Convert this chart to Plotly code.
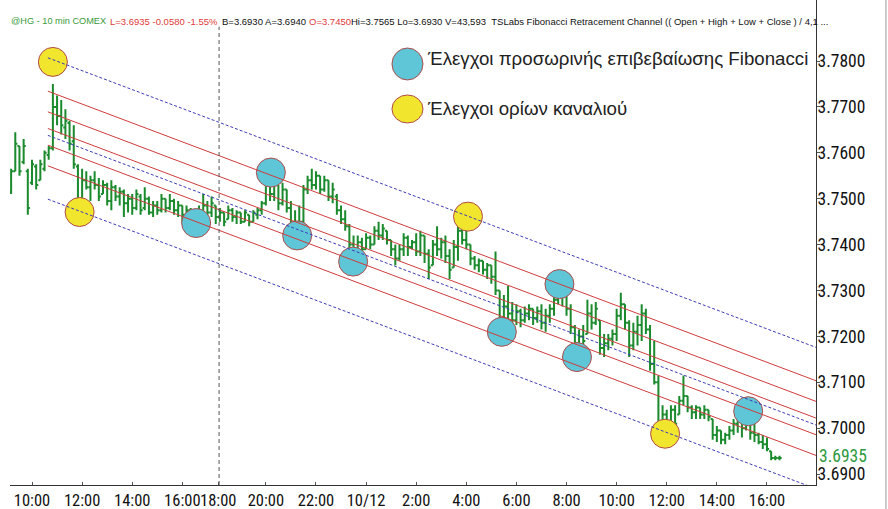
import plotly.graph_objects as go

# ---- bar data (10-min bars, index 0 = 10:00) ----
bar_index = list(range(-5, 180))
opens = [3.7515,3.7560,3.7615,3.7580,3.7560,3.7535,3.7570,3.7540,3.7565,3.7595,
 3.7610,3.7700,3.7680,3.7655,3.7665,3.7625,3.7570,3.7485,3.7540,3.7525,
 3.7540,3.7530,3.7510,3.7530,3.7495,3.7525,3.7505,3.7515,3.7490,3.7500,
 3.7480,3.7505,3.7480,3.7500,3.7470,3.7485,3.7475,3.7500,3.7480,3.7495,
 3.7475,3.7485,3.7465,3.7475,3.7455,3.7465,3.7460,3.7485,3.7470,3.7485,
 3.7460,3.7470,3.7455,3.7475,3.7460,3.7470,3.7450,3.7465,3.7450,3.7465,
 3.7475,3.7490,3.7530,3.7510,3.7530,3.7490,3.7520,3.7480,3.7445,3.7430,
 3.7450,3.7520,3.7540,3.7530,3.7550,3.7520,3.7540,3.7505,3.7505,3.7475,
 3.7455,3.7440,3.7400,3.7380,3.7405,3.7390,3.7415,3.7400,3.7430,3.7420,
 3.7430,3.7410,3.7390,3.7370,3.7390,3.7415,3.7395,3.7405,3.7385,3.7420,
 3.7380,3.7355,3.7400,3.7390,3.7405,3.7375,3.7350,3.7395,3.7430,3.7410,
 3.7400,3.7370,3.7355,3.7365,3.7345,3.7355,3.7330,3.7300,3.7240,3.7265,
 3.7250,3.7235,3.7255,3.7235,3.7250,3.7260,3.7240,3.7255,3.7230,3.7245,
 3.7260,3.7280,3.7300,3.7290,3.7260,3.7220,3.7185,3.7200,3.7205,3.7250,
 3.7230,3.7235,3.7175,3.7185,3.7195,3.7205,3.7245,3.7270,3.7230,3.7180,
 3.7210,3.7225,3.7250,3.7215,3.7140,3.7100,3.7010,3.7030,3.7000,3.7040,
 3.7030,3.7060,3.7070,3.7045,3.7035,3.7045,3.7030,3.7040,3.7020,3.6985,
 3.6995,3.6975,3.6985,3.6995,3.7010,3.7020,3.7000,3.7020,3.6990,3.6985,
 3.6970,3.6965,3.6950,3.6935,3.6935]
highs = [3.7565,3.7645,3.7615,3.7630,3.7565,3.7585,3.7575,3.7585,3.7605,3.7615,
 3.7750,3.7725,3.7715,3.7695,3.7670,3.7660,3.7575,3.7565,3.7560,3.7550,
 3.7560,3.7545,3.7540,3.7535,3.7540,3.7530,3.7525,3.7520,3.7510,3.7510,
 3.7520,3.7510,3.7525,3.7505,3.7495,3.7495,3.7510,3.7500,3.7510,3.7500,
 3.7495,3.7485,3.7485,3.7480,3.7475,3.7485,3.7510,3.7495,3.7505,3.7485,
 3.7480,3.7470,3.7485,3.7480,3.7475,3.7470,3.7475,3.7465,3.7475,3.7480,
 3.7495,3.7540,3.7560,3.7540,3.7530,3.7535,3.7520,3.7495,3.7475,3.7485,
 3.7530,3.7550,3.7565,3.7560,3.7550,3.7550,3.7540,3.7535,3.7510,3.7485,
 3.7475,3.7445,3.7420,3.7420,3.7415,3.7425,3.7420,3.7440,3.7450,3.7445,
 3.7430,3.7410,3.7400,3.7400,3.7425,3.7420,3.7410,3.7425,3.7430,3.7420,
 3.7390,3.7410,3.7440,3.7415,3.7420,3.7390,3.7410,3.7445,3.7470,3.7465,
 3.7400,3.7375,3.7370,3.7365,3.7360,3.7355,3.7385,3.7300,3.7290,3.7310,
 3.7275,3.7270,3.7260,3.7265,3.7270,3.7260,3.7265,3.7270,3.7260,3.7270,
 3.7290,3.7325,3.7305,3.7295,3.7270,3.7225,3.7215,3.7225,3.7280,3.7270,
 3.7275,3.7235,3.7205,3.7205,3.7215,3.7260,3.7295,3.7270,3.7235,3.7230,
 3.7245,3.7270,3.7260,3.7225,3.7190,3.7115,3.7050,3.7040,3.7050,3.7050,
 3.7070,3.7115,3.7070,3.7050,3.7050,3.7045,3.7050,3.7040,3.7020,3.7005,
 3.6995,3.6990,3.7005,3.7020,3.7035,3.7040,3.7050,3.7020,3.7020,3.6990,
 3.6985,3.6980,3.6950,3.6940,3.6940]
lows = [3.7510,3.7560,3.7550,3.7575,3.7465,3.7530,3.7520,3.7540,3.7560,3.7585,
 3.7605,3.7660,3.7640,3.7630,3.7605,3.7565,3.7480,3.7475,3.7520,3.7495,
 3.7520,3.7495,3.7510,3.7485,3.7475,3.7495,3.7485,3.7460,3.7470,3.7465,
 3.7475,3.7465,3.7475,3.7465,3.7460,3.7465,3.7470,3.7470,3.7475,3.7465,
 3.7460,3.7450,3.7455,3.7445,3.7440,3.7450,3.7450,3.7460,3.7460,3.7445,
 3.7450,3.7440,3.7455,3.7450,3.7445,3.7445,3.7450,3.7440,3.7450,3.7455,
 3.7465,3.7485,3.7495,3.7495,3.7475,3.7485,3.7470,3.7430,3.7415,3.7425,
 3.7445,3.7510,3.7520,3.7520,3.7510,3.7515,3.7495,3.7490,3.7465,3.7445,
 3.7430,3.7390,3.7365,3.7375,3.7385,3.7390,3.7390,3.7400,3.7410,3.7410,
 3.7400,3.7375,3.7355,3.7365,3.7375,3.7375,3.7390,3.7375,3.7375,3.7360,
 3.7325,3.7355,3.7375,3.7370,3.7360,3.7325,3.7350,3.7365,3.7400,3.7390,
 3.7355,3.7345,3.7340,3.7335,3.7325,3.7315,3.7290,3.7210,3.7235,3.7235,
 3.7220,3.7225,3.7220,3.7230,3.7235,3.7225,3.7230,3.7215,3.7210,3.7230,
 3.7245,3.7270,3.7265,3.7245,3.7205,3.7170,3.7165,3.7180,3.7205,3.7215,
 3.7225,3.7160,3.7155,3.7170,3.7180,3.7190,3.7235,3.7215,3.7155,3.7170,
 3.7180,3.7190,3.7205,3.7125,3.7095,3.6995,3.6990,3.6985,3.7000,3.6990,
 3.7030,3.7050,3.7035,3.7020,3.7020,3.7020,3.7020,3.7015,3.6975,3.6970,
 3.6965,3.6965,3.6975,3.6985,3.6990,3.6980,3.6995,3.6975,3.6970,3.6965,
 3.6955,3.6950,3.6930,3.6930,3.6930]
closes = [3.7560,3.7620,3.7560,3.7615,3.7480,3.7575,3.7530,3.7575,3.7600,3.7610,
 3.7700,3.7680,3.7660,3.7670,3.7620,3.7575,3.7490,3.7540,3.7525,3.7540,
 3.7530,3.7505,3.7530,3.7495,3.7525,3.7505,3.7515,3.7490,3.7500,3.7480,
 3.7510,3.7475,3.7500,3.7470,3.7485,3.7475,3.7500,3.7480,3.7495,3.7475,
 3.7485,3.7465,3.7475,3.7455,3.7465,3.7460,3.7485,3.7470,3.7490,3.7460,
 3.7470,3.7450,3.7475,3.7460,3.7470,3.7450,3.7470,3.7450,3.7470,3.7475,
 3.7490,3.7530,3.7510,3.7530,3.7490,3.7520,3.7480,3.7445,3.7430,3.7450,
 3.7520,3.7540,3.7530,3.7550,3.7520,3.7540,3.7505,3.7520,3.7475,3.7455,
 3.7440,3.7400,3.7380,3.7405,3.7390,3.7415,3.7400,3.7430,3.7420,3.7435,
 3.7410,3.7390,3.7370,3.7390,3.7415,3.7395,3.7405,3.7385,3.7420,3.7380,
 3.7350,3.7400,3.7390,3.7405,3.7375,3.7345,3.7395,3.7430,3.7410,3.7400,
 3.7370,3.7355,3.7365,3.7345,3.7355,3.7330,3.7300,3.7225,3.7265,3.7250,
 3.7235,3.7255,3.7235,3.7250,3.7260,3.7240,3.7255,3.7230,3.7245,3.7260,
 3.7280,3.7300,3.7290,3.7260,3.7220,3.7185,3.7200,3.7190,3.7250,3.7230,
 3.7260,3.7175,3.7185,3.7195,3.7205,3.7245,3.7270,3.7230,3.7180,3.7210,
 3.7225,3.7250,3.7215,3.7140,3.7100,3.7010,3.7030,3.7000,3.7040,3.7010,
 3.7060,3.7070,3.7045,3.7035,3.7045,3.7030,3.7040,3.7025,3.6985,3.6995,
 3.6975,3.6985,3.6995,3.7010,3.7020,3.7000,3.7030,3.6990,3.6985,3.6970,
 3.6965,3.6955,3.6935,3.6935,3.6935]

# ---- axis ticks ----
x_tick_pos = [0, 12, 24, 36, 44.6, 56, 68, 80, 92, 104, 116, 128, 140, 152, 164, 176]
x_tick_text = ["10:00", "12:00", "14:00", "16:00", "18:00", "20:00", "22:00", "10/12",
               "2:00", "4:00", "6:00", "8:00", "10:00", "12:00", "14:00", "16:00"]
y_ticks = [3.69, 3.70, 3.71, 3.72, 3.73, 3.74, 3.75, 3.76, 3.77, 3.78]
last_price = 3.6935
session_break = 44.8

# ---- Fibonacci retracement channel ----
chan_start_x = 3.8
chan_end_x = 187.74
chan_top_start = 3.7807
chan_bot_start = 3.7499
chan_mid_start = 3.7638
chan_slope = -0.000343   # price per bar
fib_levels = [0.236, 0.382, 0.5, 0.618, 0.764]

# ---- highlighted tests ----
fib_test_x = [57.2, 63.5, 76.9, 39.3, 112.5, 126.3, 130.5, 171.5]
fib_test_y = [3.7557, 3.7420, 3.7363, 3.7447, 3.7210, 3.7314, 3.7155, 3.7037]
bound_test_x = [5.0, 11.4, 104.4, 151.6]
bound_test_y = [3.7798, 3.7471, 3.7461, 3.6988]

legend_fib = "Έλεγχοι προσωρινής επιβεβαίωσης Fibonacci"
legend_bound = "Έλεγχοι ορίων καναλιού"

GREEN = "#1a8a2c"
RED = "#cf3c3c"
BLUE = "#3c3cb8"
CYAN = "#5ec6d6"
YELLOW = "#f2e52e"
OUTLINE = "#b04a4a"
NARROW = "Liberation Sans Narrow, Arial Narrow, Roboto Condensed, Liberation Sans, sans-serif"
SANS = "Liberation Sans, Arial, sans-serif"

fig = go.Figure()

# circles under everything
fig.add_trace(go.Scatter(x=fib_test_x, y=fib_test_y, mode="markers", hoverinfo="skip",
                         marker=dict(size=29, color=CYAN, line=dict(color=OUTLINE, width=1))))
fig.add_trace(go.Scatter(x=bound_test_x, y=bound_test_y, mode="markers", hoverinfo="skip",
                         marker=dict(size=29, color=YELLOW, line=dict(color=OUTLINE, width=1))))

span = chan_end_x - chan_start_x
width = chan_top_start - chan_bot_start

def chan_line(y0, color, dash):
    fig.add_trace(go.Scatter(x=[chan_start_x, chan_end_x], y=[y0, y0 + chan_slope * span],
                             mode="lines", hoverinfo="skip",
                             line=dict(color=color, width=1, dash=dash)))

for lv in fib_levels:
    chan_line(chan_top_start - lv * width, RED, "solid")
chan_line(chan_top_start, BLUE, "3px,2px")
chan_line(chan_mid_start, BLUE, "3px,2px")
chan_line(chan_bot_start, BLUE, "3px,2px")

fig.add_trace(go.Ohlc(x=bar_index, open=opens, high=highs, low=lows, close=closes,
                      increasing=dict(line=dict(color=GREEN, width=2)),
                      decreasing=dict(line=dict(color=GREEN, width=2)),
                      tickwidth=0.5, hoverinfo="skip"))

fig.add_shape(type="line", xref="x", yref="paper", x0=session_break, x1=session_break,
              y0=0, y1=0.945, line=dict(color="#555555", width=1, dash="4px,3px"))

# right frame line
fig.add_shape(type="line", xref="paper", yref="paper", x0=1.0868, x1=1.0868, y0=-0.05, y1=1,
              line=dict(color="#999999", width=1))

# legend symbols
fig.add_shape(type="circle", xref="paper", yref="paper", x0=0.4739, x1=0.5124, y0=0.8351, y1=0.9010,
              fillcolor=CYAN, line=dict(color=OUTLINE, width=1))
fig.add_shape(type="circle", xref="paper", yref="paper", x0=0.4739, x1=0.5124, y0=0.7464, y1=0.8041,
              fillcolor=YELLOW, line=dict(color=OUTLINE, width=1))

ann = []
ann.append(dict(text=legend_fib, x=0.5149, y=0.8784, xref="paper", yref="paper", xanchor="left",
                yanchor="middle", showarrow=False, font=dict(family=SANS, size=18.7, color="#222222")))
ann.append(dict(text=legend_bound, x=0.5149, y=0.7753, xref="paper", yref="paper", xanchor="left",
                yanchor="middle", showarrow=False, font=dict(family=SANS, size=18.7, color="#222222")))

header = [
    ("@HG - 10 min COMEX", 0.0, "#3a9a3a", 9.2),
    ("L=3.6935 -0.0580 -1.55%", 0.1228, "#e03a3a", 9.5),
    ("B=3.6930 A=3.6940", 0.2618, "#111111", 9.5),
    ("O=3.7450", 0.3697, "#e03a3a", 9.5),
    ("Hi=3.7565 Lo=3.6930 V=43,593\u00a0\u00a0TSLabs Fibonacci Retracement Channel (( Open + High + Low + Close ) / 4,1 ...", 0.4218, "#111111", 9.5),
]
for txt, xp, col, fs in header:
    ann.append(dict(text=txt, x=xp, y=0.9567, xref="paper", yref="paper", xanchor="left",
                    yanchor="middle", showarrow=False, borderpad=0,
                    font=dict(family=SANS, size=fs, color=col)))

ann.append(dict(text=f"{last_price:.4f}", x=1, y=last_price, xref="paper", yref="y",
                xanchor="left", yanchor="middle", xshift=2, yshift=2, showarrow=False, borderpad=0,
                font=dict(family=NARROW, size=17.5, color="#2e9a3e")))

fig.update_layout(
    width=888, height=509,
    margin=dict(l=10, r=72, t=0, b=24, autoexpand=False),
    paper_bgcolor="white", plot_bgcolor="white",
    showlegend=False,
    annotations=ann,
    xaxis=dict(range=[-5.268, 187.74], tickvals=x_tick_pos, ticktext=x_tick_text,
               tickangle=0, automargin=False,
               showgrid=False, zeroline=False, showline=True, linecolor="#333333", linewidth=1,
               ticks="inside", ticklen=3, tickcolor="#555555", ticklabelstandoff=0,
               tickfont=dict(family=NARROW, size=16.5, color="#111111"),
               rangeslider=dict(visible=False)),
    yaxis=dict(range=[3.68763, 3.79329], side="right", tickvals=y_ticks, tickformat=".4f",
               automargin=False,
               showgrid=False, zeroline=False, showline=True, linecolor="#333333", linewidth=1,
               ticks="outside", ticklen=3, tickcolor="#555555", ticklabelstandoff=-6,
               tickfont=dict(family=NARROW, size=17.5, color="#111111")),
)

fig.write_html("out.html", config={"displayModeBar": False},
               post_script="document.body.style.margin='0';")
